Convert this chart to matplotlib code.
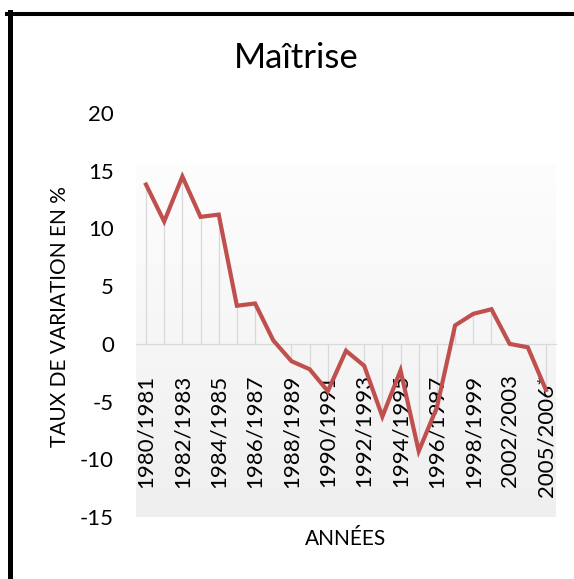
import matplotlib
matplotlib.use("Agg")
import matplotlib.pyplot as plt
from matplotlib.lines import Line2D
import numpy as np

plt.rcParams['font.family'] = ['Lato', 'DejaVu Sans']

# Data
years = ["1980/1981", "1981/1982", "1982/1983", "1983/1984", "1984/1985",
         "1985/1986", "1986/1987", "1987/1988", "1988/1989", "1989/1990",
         "1990/1991", "1991/1992", "1992/1993", "1993/1994", "1994/1995",
         "1995/1996", "1996/1997", "1997/1998", "1998/1999", "2000/2001",
         "2002/2003", "2003/2004", "2005/2006*"]
taux = [13.8, 10.6, 14.5, 11.0, 11.2,
        3.3, 3.5, 0.3, -1.5, -2.2,
        -4.1, -0.6, -1.9, -6.3, -2.3,
        -9.3, -5.5, 1.6, 2.6, 3.0,
        0.0, -0.3, -4.0]
shown_labels = years[::2]
y_ticks = [-15, -10, -5, 0, 5, 10, 15, 20]

W, H = 574, 579
fig = plt.figure(figsize=(W / 100, H / 100), dpi=100)
fig.patch.set_facecolor("white")

ax = fig.add_axes([136 / W, 1 - 517 / H, 420 / W, 404 / H])
ax.set_facecolor("none")
n = len(years)
xs = np.arange(n)
ax.set_xlim(-0.55, n - 1 + 0.55)
ax.set_ylim(-15, 20)

# plot area gradient fill (white at top -> light grey at bottom)
grad = np.linspace(0, 1, 256).reshape(-1, 1)
top_c = np.array([253, 253, 253]) / 255
bot_c = np.array([239, 239, 239]) / 255
img = top_c[None, None, :] * (1 - grad[:, :, None]) + bot_c[None, None, :] * grad[:, :, None]
ax.imshow(img, extent=(-0.55, n - 1 + 0.55, -15, 15.5), aspect="auto",
          origin="upper", zorder=0)

# drop lines and the line itself
ax.vlines(xs, 0, taux, colors="#d9d9d9", linewidth=0.9, zorder=1)
ax.plot(xs, taux, color="#C0504D", linewidth=3.0, solid_joinstyle="miter", zorder=3)

for s in ["left", "right", "top"]:
    ax.spines[s].set_visible(False)
ax.spines["bottom"].set_position(("data", 0))
ax.spines["bottom"].set_color("#d9d9d9")
ax.spines["bottom"].set_linewidth(0.9)
ax.spines["bottom"].set_zorder(2)

ax.set_xticks(xs)
ax.set_xticklabels([y if y in shown_labels else "" for y in years],
                   rotation=90, fontsize=16, va="top", ha="center")
ax.tick_params(axis="x", length=0, pad=22)
ax.set_yticks(y_ticks)
ax.set_yticklabels([str(v) for v in y_ticks], fontsize=16)
ax.tick_params(axis="y", length=0, pad=16)

fig.text(296.5 / W, 1 - 68 / H, "Maîtrise", fontsize=25, ha="center", va="baseline")
fig.text(60 / W, 1 - 316.5 / H, "TAUX DE VARIATION EN %", fontsize=15,
         rotation=90, ha="center", va="center")
fig.text(346 / W, 1 - 545 / H, "ANNÉES", fontsize=15, ha="center", va="baseline")

# chart border (only left and top edges are visible)
fig.add_artist(Line2D([9.8 / W, 9.8 / W], [0, 1 - 12 / H], color="black",
                      linewidth=3.6, transform=fig.transFigure))
fig.add_artist(Line2D([7 / W, 1], [1 - 14 / H, 1 - 14 / H], color="black",
                      linewidth=2.9, transform=fig.transFigure))

fig.savefig("out.png", dpi=100)
